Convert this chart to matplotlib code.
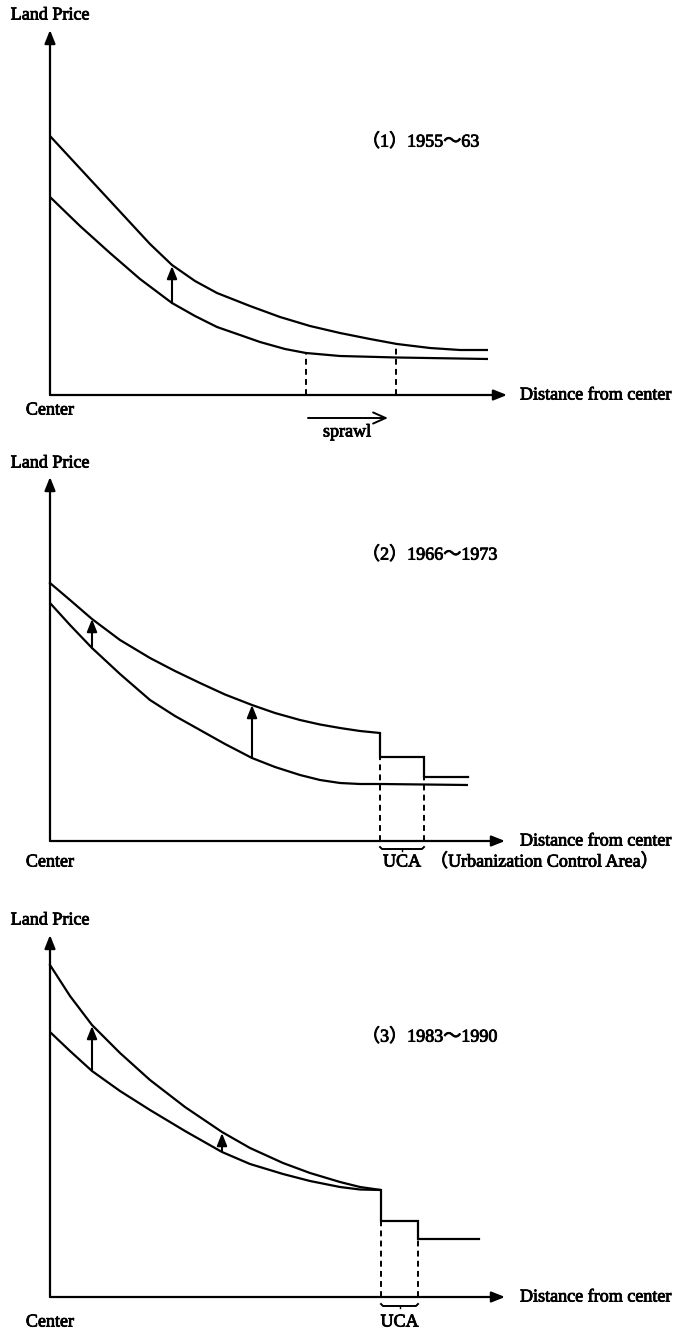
import matplotlib
matplotlib.use("Agg")
import matplotlib.pyplot as plt
import matplotlib.patheffects as pe

plt.rcParams['font.family'] = ['Liberation Serif', 'Noto Sans CJK JP', 'DejaVu Sans']

# ---------------- data (distance from center, land price) ----------------
# Panel 1: 1955~63
p1_upper_x = [0, 25, 50, 75, 100, 122, 145, 167, 200, 230, 260, 290, 320, 347, 380, 410, 438]
p1_upper_y = [259, 232, 205, 178, 151, 130, 114, 102, 89, 78, 69, 62, 56, 51, 47, 45, 45]
p1_lower_x = [0, 30, 60, 90, 122, 145, 167, 190, 210, 235, 256, 290, 347, 438]
p1_lower_y = [198, 169, 142, 116, 92, 79, 68, 60, 53, 46, 42, 39, 37.5, 36]
p1_sprawl = [256, 346]            # frontier before / after
p1_shift_x = [122]
p1_shift_from = [92]
p1_shift_to = [129]

# Panel 2: 1966~1973
p2_upper_x = [0, 20, 42, 70, 100, 125, 150, 175, 202, 225, 250, 270, 290, 310, 330]
p2_upper_y = [258, 241, 222, 201, 183, 170, 158, 146.5, 136, 128, 121, 116.5, 113, 110, 108]
p2_uca = [330, 374]
p2_uca_price = 84
p2_outer_end = 418
p2_outer_price = 64
p2_lower_x = [0, 20, 42, 70, 100, 125, 150, 175, 202, 225, 250, 270, 290, 310, 330, 418]
p2_lower_y = [238, 216, 193, 167, 141, 125, 111, 97, 83, 74, 66, 61, 58, 57, 57, 56]
p2_shift_x = [42, 202]
p2_shift_from = [193, 83]
p2_shift_to = [222, 136]

# Panel 3: 1983~1990
p3_upper_x = [0, 20, 42, 70, 100, 135, 172, 200, 233, 260, 290, 310, 331]
p3_upper_y = [332, 301, 272, 244, 217, 190, 165, 149, 134, 124, 115, 110, 107]
p3_lower_x = [0, 20, 42, 70, 100, 135, 172, 200, 233, 260, 290, 310, 331]
p3_lower_y = [265, 246, 226, 206, 187, 166, 145, 133, 123, 116, 110, 107.5, 107]
p3_uca = [331, 368]
p3_uca_price = 76
p3_outer_end = 429
p3_outer_price = 58
p3_shift_x = [42, 172]
p3_shift_from = [226, 146]
p3_shift_to = [271, 164]

titles = ['（1）1955～63', '（2）1966～1973', '（3）1983～1990']

# ---------------- figure ----------------
W, H = 679, 1332
fig = plt.figure(figsize=(W / 100, H / 100), dpi=100)

# (top px, bottom px, x-axis px row)
panels = [(0, 440, 395), (440, 880, 841), (880, 1332, 1297)]
OX = 50  # y-axis pixel column

FS = 13
LW = 1.6
BOLDEN = [pe.withStroke(linewidth=0.6, foreground='black')]


def make_ax(top, bot, axis_row):
    ax = fig.add_axes([0, 1 - bot / H, 1, (bot - top) / H])
    ax.set_xlim(-OX, W - OX)
    ax.set_ylim(axis_row - bot, axis_row - top)
    ax.axis('off')
    return ax


def txt(ax, x, y, s, ha='center'):
    ax.text(x, y, s, ha=ha, va='center', fontsize=FS, path_effects=BOLDEN)


def arrow(ax, x0, y0, x1, y1, hl=0.8, hw=0.32, lw=LW, style='-|>'):
    ax.annotate('', xy=(x1, y1), xytext=(x0, y0),
                arrowprops=dict(arrowstyle=f'{style},head_length={hl},head_width={hw}',
                                lw=lw, color='black', shrinkA=0, shrinkB=0,
                                mutation_scale=10))


def frame(ax, ytip, xtip, land_y, center_y, title, title_y):
    arrow(ax, 0, 0, 0, ytip)
    arrow(ax, 0, 0, xtip, 0)
    txt(ax, 0, land_y, 'Land Price')
    txt(ax, 0, center_y, 'Center')
    txt(ax, 470, 0, 'Distance from center', ha='left')
    txt(ax, 312, title_y, title, ha='left')


def shifts(ax, xs, y0s, y1s):
    for x, a, b in zip(xs, y0s, y1s):
        arrow(ax, x, a, x, b, hl=0.75, hw=0.3, lw=1.5)


def uca_bracket(ax, uca, yb, ylab, extra=None):
    x0, x1 = uca
    ax.plot([x0, x0 + 2, x1 - 2, x1], [yb + 2, yb, yb, yb + 2], color='k', lw=1.4)
    xm = (x0 + x1) / 2
    ax.plot([xm, xm], [yb, yb - 2], color='k', lw=1.0)
    txt(ax, xm, ylab, 'UCA')
    if extra:
        txt(ax, x1 + 6, ylab, extra, ha='left')


dash = dict(color='k', lw=1.4, ls=(0, (3, 2.2)))
curve = dict(color='k', lw=LW, solid_joinstyle='round', solid_capstyle='butt')

# ---- Panel 1 ----
ax1 = make_ax(*panels[0])
frame(ax1, 365, 457, 380, -15, titles[0], 253)
ax1.plot(p1_upper_x, p1_upper_y, **curve)
ax1.plot(p1_lower_x, p1_lower_y, **curve)
ax1.plot([p1_sprawl[0]] * 2, [0, 42], **dash)
ax1.plot([p1_sprawl[1]] * 2, [0, 51], **dash)
shifts(ax1, p1_shift_x, p1_shift_from, p1_shift_to)
arrow(ax1, p1_sprawl[0] + 2, -23, p1_sprawl[1] - 8, -23, hl=0.9, hw=0.4, lw=1.4, style='->')
txt(ax1, (p1_sprawl[0] + p1_sprawl[1]) / 2 - 4, -37, 'sprawl')

# ---- Panel 2 ----
ax2 = make_ax(*panels[1])
frame(ax2, 364, 455, 378, -21, titles[1], 286)
ax2.plot(p2_upper_x + [p2_uca[0], p2_uca[1], p2_uca[1], p2_outer_end],
         p2_upper_y + [p2_uca_price, p2_uca_price, p2_outer_price, p2_outer_price],
         color='k', lw=LW, solid_joinstyle='miter')
ax2.plot(p2_lower_x, p2_lower_y, **curve)
ax2.plot([p2_uca[0]] * 2, [0, p2_uca_price], **dash)
ax2.plot([p2_uca[1]] * 2, [0, p2_outer_price], **dash)
shifts(ax2, p2_shift_x, p2_shift_from, p2_shift_to)
uca_bracket(ax2, p2_uca, -8, -21, '（Urbanization Control Area）')

# ---- Panel 3 ----
ax3 = make_ax(*panels[2])
frame(ax3, 362, 455, 377, -25, titles[2], 260)
ax3.plot(p3_upper_x + [p3_uca[0], p3_uca[1], p3_uca[1], p3_outer_end],
         p3_upper_y + [p3_uca_price, p3_uca_price, p3_outer_price, p3_outer_price],
         color='k', lw=LW, solid_joinstyle='miter')
ax3.plot(p3_lower_x, p3_lower_y, **curve)
ax3.plot([p3_uca[0]] * 2, [0, p3_uca_price], **dash)
ax3.plot([p3_uca[1]] * 2, [0, p3_outer_price], **dash)
shifts(ax3, p3_shift_x, p3_shift_from, p3_shift_to)
uca_bracket(ax3, p3_uca, -9, -25)

fig.savefig('out.png', dpi=100, facecolor='white')
